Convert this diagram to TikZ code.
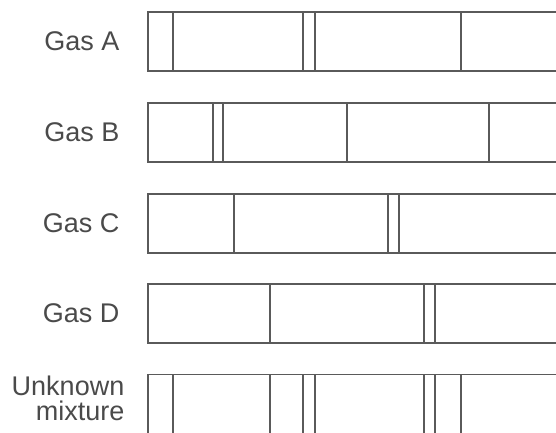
\documentclass[tikz,border=0pt]{standalone}
\usepackage{fontspec}
\setmainfont{Liberation Sans}
\definecolor{linegray}{HTML}{5A5A5A}
\definecolor{textgray}{HTML}{4A4A4A}
\begin{document}
\begin{tikzpicture}[x=1pt,y=-1pt,
  barline/.style={draw=linegray,line width=1.7pt},
  specline/.style={draw=linegray,line width=1.7pt},
  gaslabel/.style={inner sep=0pt,anchor=base east,text=textgray,font=\fontsize{27}{25}\selectfont}]
\useasboundingbox (0,0) rectangle (556,432);
\clip (0,0) rectangle (556,432);
% bar A
\draw[barline] (560,12) -- (148,12) -- (148,71) -- (560,71);
\foreach \x in {172.7,303.3,315,460.7} \draw[specline] (\x,12) -- (\x,71);
\node[gaslabel] (labA) at (119.5,50.5) {Gas A};
% bar B
\draw[barline] (560,103) -- (148,103) -- (148,162) -- (560,162);
\foreach \x in {212.7,223.3,347.3,489.3} \draw[specline] (\x,103) -- (\x,162);
\node[gaslabel] (labB) at (119.5,141.5) {Gas B};
% bar C
\draw[barline] (560,194) -- (148,194) -- (148,253) -- (560,253);
\foreach \x in {234.3,388.3,399.3} \draw[specline] (\x,194) -- (\x,253);
\node[gaslabel] (labC) at (119.5,232) {Gas C};
% bar D
\draw[barline] (560,284) -- (148,284) -- (148,343) -- (560,343);
\foreach \x in {270,424,435.3} \draw[specline] (\x,284) -- (\x,343);
\node[gaslabel] (labD) at (119.5,322.5) {Gas D};
% unknown mixture
\draw[barline] (560,374.5) -- (148,374.5) -- (148,440);
\foreach \x in {172.7,270,303.3,315,424,435.3,460.7} \draw[specline] (\x,374.5) -- (\x,440);
\node[gaslabel] (labU1) at (124.5,395) {Unknown};
\node[gaslabel] (labU2) at (124.5,420) {mixture};
\end{tikzpicture}
\end{document}
